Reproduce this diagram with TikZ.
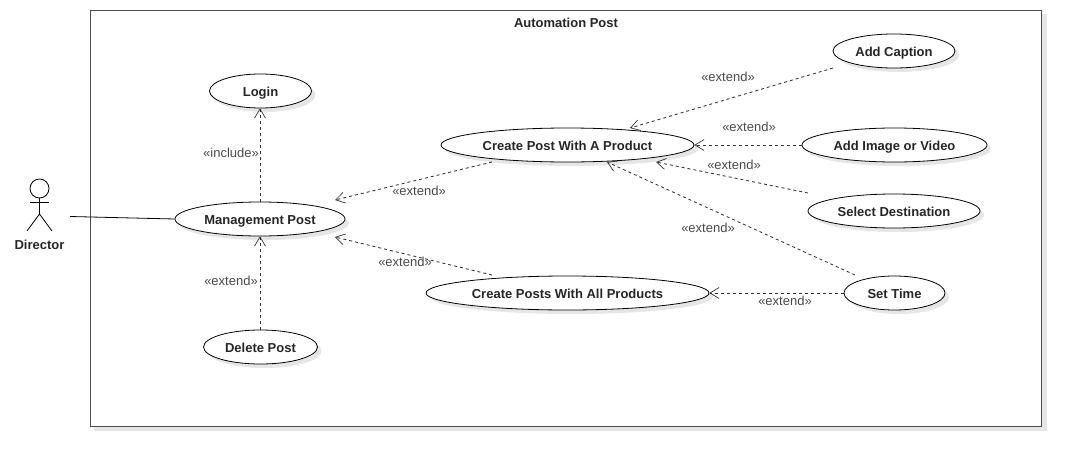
\documentclass[tikz,border=0pt]{standalone}
\usepackage{fontspec}
\setmainfont{Liberation Sans}
\usetikzlibrary{arrows.meta,shadows,shapes.geometric}
\definecolor{softgrey}{HTML}{E6E6E6}
\definecolor{labelgrey}{HTML}{4A4A4A}
\tikzset{
  x=1pt,y=-1pt,
  usecase/.style={ellipse,draw=black,line width=0.8pt,fill=white,minimum height=34pt,inner sep=0pt,
    font=\bfseries\fontsize{13}{15}\selectfont,text=black!85,text height=11pt,text depth=0pt,
    general shadow={shadow xshift=4pt,shadow yshift=-4pt,fill=softgrey,draw=none}},
  dep/.style={draw=black!80,line width=0.85pt,dash pattern=on 3pt off 3pt,
    -{Straight Barb[length=9pt,width=11pt,line width=0.7pt]}},
  deplabel/.style={font=\fontsize{13}{15}\selectfont,text=labelgrey,inner sep=0pt,text height=9.4pt,text depth=0pt},
  boldtext/.style={font=\bfseries\fontsize{13}{15}\selectfont,text=black!85,inner sep=0pt,text height=11pt,text depth=0pt},
  stick/.style={draw=black,line width=0.8pt},
}
\begin{document}
\begin{tikzpicture}
\useasboundingbox (0,0) rectangle (1082,466);
\fill[softgrey] (94,14) rectangle (1047,431);
\node[draw=black!70,line width=1pt,fill=white,minimum width=951pt,minimum height=416pt,inner sep=0pt] (frame) at (565.5,218) {};
\node[boldtext] (title) at (566,22) {Automation Post};

\node[usecase,minimum width=102pt] (login) at (260.5,91) {Login};
\node[usecase,minimum width=170pt] (mgmt) at (260,219) {Management Post};
\node[usecase,minimum width=114pt] (del) at (260.5,347) {Delete Post};
\node[usecase,minimum width=253pt] (create) at (567.5,145) {Create Post With A Product};
\node[usecase,minimum width=283pt] (all) at (567.5,293) {Create Posts With All Products};
\node[usecase,minimum width=122pt] (cap) at (894,51) {Add Caption};
\node[usecase,minimum width=185pt] (img) at (894.5,145) {Add Image or Video};
\node[usecase,minimum width=172pt] (sel) at (894,211) {Select Destination};
\node[usecase,minimum width=101pt] (time) at (894.5,293) {Set Time};

% actor
\node[circle,stick,minimum size=19pt,inner sep=0pt] (head) at (39.5,188.5) {};
\coordinate (hip) at (39.5,214);
\coordinate (armL) at (30,202);
\coordinate (armR) at (49,202);
\coordinate (legL) at (27,231);
\coordinate (legR) at (52,231);
\draw[stick] (head.south) -- (hip);
\draw[stick] (armL) -- (armR);
\draw[stick] (legL) -- (hip) -- (legR);
\node[boldtext] (director) at (39.5,244) {Director};
\coordinate (actorEnd) at (70,216.5);
\draw[stick] (actorEnd) -- (mgmt.west);

% free ends
\coordinate (capS) at (833,68);
\coordinate (capT) at (630,128);
\coordinate (selS) at (808,193);
\coordinate (selT) at (656,162);
\coordinate (timeS) at (855,275);
\coordinate (timeT) at (607,162);
\coordinate (createS) at (492,162);
\coordinate (createT) at (335,200);
\coordinate (allS) at (492,275);
\coordinate (allT) at (335,237);

\draw[dep] (mgmt.north) -- (mgmt.north |- login.south);
\draw[dep] (mgmt.south |- del.north) -- (mgmt.south);
\draw[dep] (img.west) -- (create.east);
\draw[dep] (time.west) -- (all.east);
\draw[dep] (capS) -- (capT);
\draw[dep] (selS) -- (selT);
\draw[dep] (timeS) -- (timeT);
\draw[dep] (createS) -- (createT);
\draw[dep] (allS) -- (allT);

\node[deplabel] (l1) at (231,153) {«include»};
\node[deplabel] (l2) at (231,281) {«extend»};
\node[deplabel] (l3) at (728,77) {«extend»};
\node[deplabel] (l4) at (749,127) {«extend»};
\node[deplabel] (l5) at (734,165) {«extend»};
\node[deplabel] (l6) at (708,228) {«extend»};
\node[deplabel] (l7) at (419,191) {«extend»};
\node[deplabel] (l8) at (405,262) {«extend»};
\node[deplabel] (l9) at (785,301) {«extend»};
\end{tikzpicture}
\end{document}
